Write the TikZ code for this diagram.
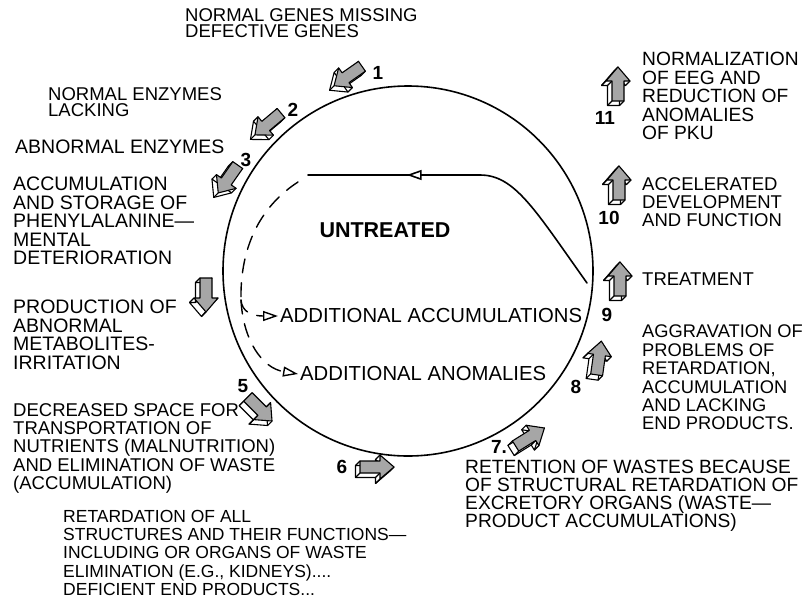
\documentclass[tikz,border=0pt]{standalone}
\usepackage{fontspec}
\setmainfont{Liberation Sans}
\usetikzlibrary{arrows.meta,decorations.markings}

\newcommand{\pkuarrow}[2]{%
  \begin{scope}[shift={#1},shift={(-4.5,4.5)},rotate=#2]
    \path[draw,fill=white,arrowline] (-17,-6) coordinate (b1) -- (3,-6) coordinate (b2) -- (3,-12) coordinate (b3)
      -- (17,0) coordinate (b4) -- (3,12) coordinate (b5) -- (3,6) coordinate (b6) -- (-17,6) coordinate (b7) -- cycle;
  \end{scope}
  \begin{scope}[shift={#1},rotate=#2]
    \path (-17,-6) coordinate (f1) (3,-6) coordinate (f2) (3,-12) coordinate (f3)
      (17,0) coordinate (f4) (3,12) coordinate (f5) (3,6) coordinate (f6) (-17,6) coordinate (f7);
  \end{scope}
  \foreach \i in {1,...,7} \draw[arrowline] (b\i) -- (f\i);
  \draw[arrowline,fill=black!35] (f1) -- (f2) -- (f3) -- (f4) -- (f5) -- (f6) -- (f7) -- cycle;
}

\begin{document}
\begin{tikzpicture}[x=1pt,y=-1pt,line join=round,line cap=round,
    txt/.style={anchor=north west,inner sep=0pt,align=left,font=\fontsize{18.5}{18.4}\selectfont},
    bigtxt/.style={txt,font=\fontsize{19.5}{18.4}\selectfont},
    toptxt/.style={txt,font=\fontsize{18.5}{16.8}\selectfont},
    num/.style={inner sep=0pt,font=\bfseries\fontsize{19}{19}\selectfont},
    inner/.style={inner sep=2pt,anchor=west,font=\fontsize{20.3}{20}\selectfont},
    arrowline/.style={line width=1.1pt},
    dashcurve/.style={line width=1.4pt,dash pattern=on 14pt off 10pt},
    opentip/.style={-{Triangle[open,fill=white,length=15pt,width=10pt]}}]
  \useasboundingbox (0,0) rectangle (809,600);

  \draw[line width=1.6pt] (408,271) circle (185);

  \node[toptxt] (genes) at (185,8) {NORMAL GENES MISSING\\DEFECTIVE GENES};
  \node[toptxt] (enz) at (48,87) {NORMAL ENZYMES\\LACKING};
  \node[bigtxt] (abn) at (15,140) {ABNORMAL ENZYMES};
  \node[bigtxt] (acc) at (13,177) {ACCUMULATION\\AND STORAGE OF\\PHENYLALANINE—\\MENTAL\\DETERIORATION};
  \node[bigtxt] (prod) at (13,300) {PRODUCTION OF\\ABNORMAL\\METABOLITES-\\IRRITATION};
  \node[txt] (space) at (13,403) {DECREASED SPACE FOR\\TRANSPORTATION OF\\NUTRIENTS (MALNUTRITION)\\AND ELIMINATION OF WASTE\\(ACCUMULATION)};
  \node[txt,font=\fontsize{17.5}{18.2}\selectfont] (retard) at (63,510) {RETARDATION OF ALL\\STRUCTURES AND THEIR FUNCTIONS—\\INCLUDING OR ORGANS OF WASTE\\ELIMINATION (E.G., KIDNEYS)....\\DEFICIENT END PRODUCTS...};
  \node[txt,font=\fontsize{19.2}{18}\selectfont] (retent) at (465,460) {RETENTION OF WASTES BECAUSE\\OF STRUCTURAL RETARDATION OF\\EXCRETORY ORGANS (WASTE—\\PRODUCT ACCUMULATIONS)};
  \node[txt,font=\fontsize{18.3}{18.4}\selectfont] (aggr) at (642,325) {AGGRAVATION OF\\PROBLEMS OF\\RETARDATION,\\ACCUMULATION\\AND LACKING\\END PRODUCTS.};
  \node[txt] (treat) at (642,273) {TREATMENT};
  \node[txt] (accel) at (642,177) {ACCELERATED\\DEVELOPMENT\\AND FUNCTION};
  \node[txt,font=\fontsize{19.2}{18.5}\selectfont] (norm) at (642,52) {NORMALIZATION\\OF EEG AND\\REDUCTION OF\\ANOMALIES\\OF PKU};

  \node[num] (n1) at (378,73) {1};
  \node[num] (n2) at (293,110) {2};
  \node[num] (n3) at (246,160) {3};
  \node[num] (n5) at (243,386) {5};
  \node[num] (n6) at (342,467) {6};
  \node[num] (n7) at (499,447) {7.};
  \node[num] (n8) at (576,387) {8};
  \node[num] (n9) at (607,315) {9};
  \node[num] (n10) at (609,218) {10};
  \node[num] (n11) at (605,118) {11};

  \pkuarrow{(348,76)}{215}
  \pkuarrow{(268,124)}{220}
  \pkuarrow{(228,179)}{235}
  \pkuarrow{(206,295)}{270}
  \pkuarrow{(260,409)}{315}
  \pkuarrow{(377,467)}{0}
  \pkuarrow{(530,437)}{32}
  \pkuarrow{(599,358)}{82}
  \pkuarrow{(620,279)}{90}
  \pkuarrow{(619,183)}{90}
  \pkuarrow{(618,84)}{90}

  \node[font=\bfseries\fontsize{21.5}{21.5}\selectfont] (untr) at (385,230) {UNTREATED};
  \node[inner] (addacc) at (278,316) {ADDITIONAL ACCUMULATIONS};
  \node[inner] (addanom) at (298,374) {ADDITIONAL ANOMALIES};

  \coordinate (cstart) at (587,283);
  \coordinate (cbend) at (480,175);
  \coordinate (cend) at (308,175);
  \draw[line width=1.6pt,postaction={decorate},
    decoration={markings,mark=at position 0.70 with {\arrow{Triangle[open,fill=white,length=15pt,width=10pt]}}}]
    (cstart) .. controls (535,210) and (515,175) .. (cbend) -- (cend);

  \coordinate (dstart) at (298,182);
  \coordinate (dsplit) at (241,300);
  \draw[dashcurve] (dstart) .. controls (258,208) and (240,250) .. (dsplit);
  \draw[dashcurve,opentip] (dsplit) .. controls (242,312) and (252,316) .. (addacc.west);
  \draw[dashcurve,opentip] (dsplit) .. controls (243,340) and (262,368) .. (addanom.west);
\end{tikzpicture}
\end{document}
